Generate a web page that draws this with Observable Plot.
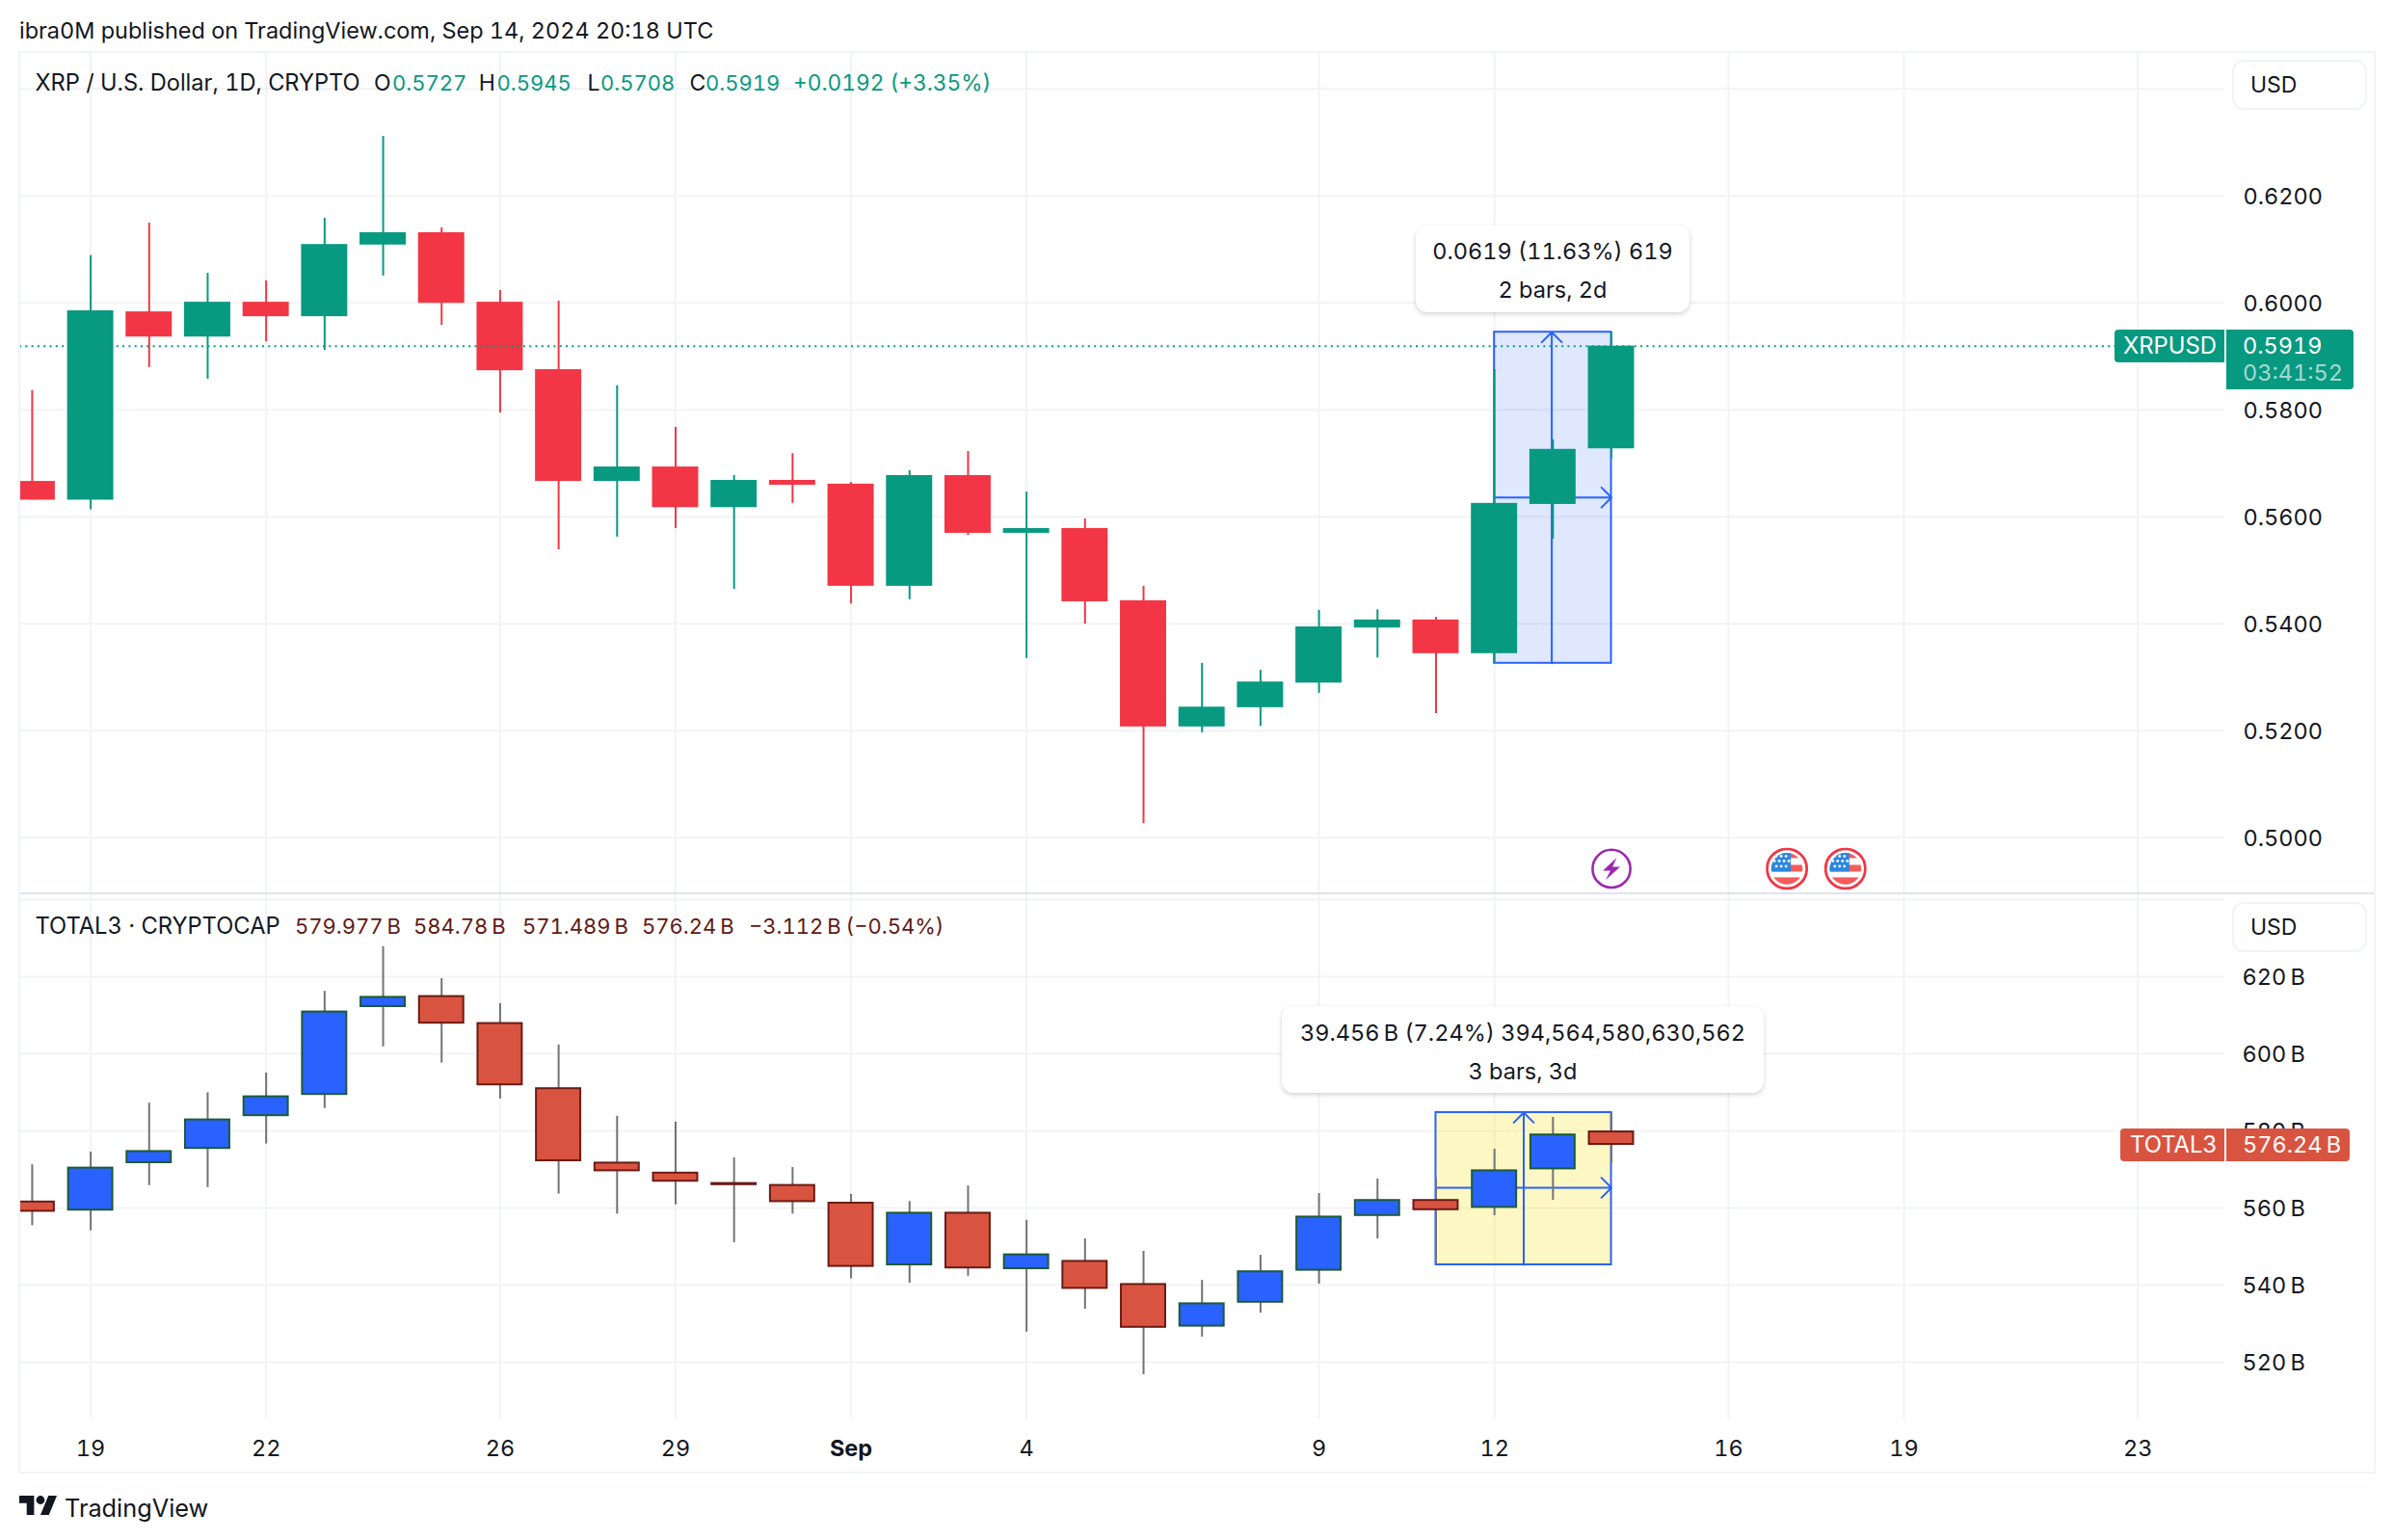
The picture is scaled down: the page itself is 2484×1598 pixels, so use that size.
<!DOCTYPE html>
<html>
<head>
<meta charset="utf-8">
<script src="https://cdn.jsdelivr.net/npm/d3@7"></script>
<script src="https://cdn.jsdelivr.net/npm/@observablehq/plot@0.6"></script>
<style>
html,body{margin:0;padding:0;background:#fff;}
#page{position:relative;width:2484px;height:1598px;overflow:hidden;font-family:Inter,sans-serif;color:#131722;font-variant-numeric:tabular-nums;}
.t{position:absolute;white-space:pre;line-height:1;transform:translateY(-50%);}
.box{position:absolute;box-sizing:border-box;}
.plot{position:absolute;left:0;}
.plot svg{display:block;}
.plot svg text{font-variant-numeric:tabular-nums;}
.tip{position:absolute;box-sizing:border-box;background:#fff;border-radius:12px;box-shadow:0 2px 5px rgba(0,0,0,.18);}
</style>
</head>
<body>
<div id="page"></div>
<script>
const barDates = ["2024-08-18","2024-08-19","2024-08-20","2024-08-21","2024-08-22","2024-08-23","2024-08-24","2024-08-25","2024-08-26","2024-08-27","2024-08-28","2024-08-29","2024-08-30","2024-08-31","2024-09-01","2024-09-02","2024-09-03","2024-09-04","2024-09-05","2024-09-06","2024-09-07","2024-09-08","2024-09-09","2024-09-10","2024-09-11","2024-09-12","2024-09-13","2024-09-14"];

const xrpOpen  = [.5666,.5631,.5983,.5936,.6001,.5974,.6108,.6131,.6001,.5875,.5666,.5693,.5617,.5668,.5661,.5470,.5677,.5569,.5578,.5443,.5207,.5243,.5289,.5392,.5407,.5344,.5623,.5727];
const xrpHigh  = [.5836,.6088,.6149,.6055,.6041,.6158,.6311,.6140,.6023,.6003,.5845,.5767,.5677,.5718,.5664,.5686,.5722,.5646,.5596,.5470,.5326,.5313,.5425,.5426,.5412,.5875,.5744,.5945];
const xrpLow   = [.5631,.5613,.5879,.5857,.5927,.5911,.6050,.5958,.5794,.5538,.5562,.5578,.5464,.5625,.5437,.5445,.5565,.5335,.5399,.5026,.5196,.5208,.5270,.5336,.5232,.5326,.5558,.5708];
const xrpClose = [.5631,.5985,.5936,.6001,.5974,.6109,.6131,.5999,.5873,.5666,.5693,.5617,.5668,.5659,.5470,.5677,.5569,.5578,.5441,.5207,.5244,.5291,.5394,.5407,.5344,.5625,.5726,.5919];

const totalOpen  = [561.8,559.2,571.5,575.2,583.7,589.2,612.0,615.1,608.1,591.2,571.9,569.3,566.6,566.1,561.5,545.0,558.9,544.0,546.4,540.4,529.1,535.3,543.6,557.8,562.2,559.9,569.9,579.977];
const totalHigh  = [571.2,574.5,587.2,589.9,595.0,616.2,627.8,619.5,613.0,602.3,583.8,582.3,573.0,570.5,563.5,561.7,565.7,556.8,552.0,548.75,541.25,547.75,563.75,567.5,567.8,575.25,583.5,584.78];
const totalLow   = [555.4,554.1,565.8,565.3,576.6,585.8,601.8,597.6,588.3,563.6,558.4,560.8,551.0,558.4,541.6,540.5,542.3,527.8,533.75,516.75,526.5,532.75,540.25,552,545.3,558,562,571.489];
const totalClose = [558.9,570.6,574.9,583.1,589.1,611.1,614.9,607.7,591.7,572.0,569.4,566.7,565.8,561.4,544.6,558.9,544.2,548.1,538.9,528.8,535.4,543.7,557.9,562.2,559.3,569.9,579.2,576.24];

const timeTicks = ["2024-08-19","2024-08-22","2024-08-26","2024-08-29","2024-09-01","2024-09-04","2024-09-09","2024-09-12","2024-09-16","2024-09-19","2024-09-23"].map(d=>new Date(d));
const xrpGrid = [.50,.52,.54,.56,.58,.60,.62,.64];
const xrpLabels = [.50,.52,.54,.56,.58,.60,.62];
const totalGrid = [520,540,560,580,600,620,640];
const totalLabels = [520,540,560,580,600,620];

const xDomain = [new Date("2024-08-17T18:54:00Z"), new Date("2024-09-24T11:41:00Z")];
const xrpDomain = [0.48968, 0.64661];
const totalDomain = [505.25, 641.5];

const xrpUp = "#089981", xrpDown = "#f23645";
const totalUp = "#2962ff", totalDown = "#d95440", totalUpEdge = "#1e5a37", totalDownEdge = "#6a1b14", wickGrey = "#737375";
const gridColor = "#f2f3f5", blue = "#2962ff";

const xrpMeasure = {x1:new Date("2024-09-12"), x2:new Date("2024-09-14"), xm:new Date("2024-09-12T23:30:00Z"), y1:.5326, y2:.5945, ym:.5636};
const totalMeasure = {x1:new Date("2024-09-11"), x2:new Date("2024-09-14"), xm:new Date("2024-09-12T12:00:00Z"), y1:545.25, y2:584.75, ym:565.25};

const nb = "\u202f";
const halfBar = 0.395 * 864e5;
const rows = (o,h,l,c) => barDates.map((d,i)=>({date:new Date(d),o:o[i],h:h[i],l:l[i],c:c[i],up:c[i]>=o[i]}));
const xrpRows = rows(xrpOpen,xrpHigh,xrpLow,xrpClose);
const totalRows = rows(totalOpen,totalHigh,totalLow,totalClose);

function svgUri(s){return "data:image/svg+xml;utf8,"+encodeURIComponent(s);}
const flagStars = [[11,9],[16,9],[21,9],[9,14],[14,14],[19,14],[24,14],[11,19.5],[16,19.5],[21,19.5]].map(p=>`<circle cx="${p[0]}" cy="${p[1]}" r="1.4" fill="#fff"/>`).join("");
const flagIcon = svgUri(`<svg xmlns="http://www.w3.org/2000/svg" width="44" height="44" viewBox="0 0 44 44"><clipPath id="c"><circle cx="22" cy="22" r="16.3"/></clipPath><circle cx="22" cy="22" r="20.6" fill="#fff" stroke="#f23645" stroke-width="2.8"/><g clip-path="url(#c)"><rect x="0" y="0" width="44" height="11" fill="#f45b5b"/><rect x="0" y="18" width="44" height="7" fill="#f45b5b"/><rect x="0" y="31" width="44" height="13" fill="#f45b5b"/><rect x="0" y="0" width="26" height="25" fill="#2c87e0"/>${flagStars}</g></svg>`);
const boltIcon = svgUri(`<svg xmlns="http://www.w3.org/2000/svg" width="44" height="44" viewBox="0 0 44 44"><circle cx="22" cy="22" r="19.6" fill="#fff" stroke="#9c27b0" stroke-width="2.6"/><path d="M27.5 10.5 L13 24 L21 24 L16 33.5 L31 20 L23 20 Z" fill="#9c27b0"/></svg>`);
const xrpEvents = [{date:new Date("2024-09-14"),v:.4942,src:boltIcon},{date:new Date("2024-09-17"),v:.4942,src:flagIcon},{date:new Date("2024-09-18"),v:.4942,src:flagIcon}];

const common = {width:2484, marginLeft:20, marginRight:176, marginTop:0};
const font = {fontFamily:"Inter, sans-serif", fontSize:"23.5px", color:"#131722", background:"transparent"};

const xrpChart = Plot.plot({
  ...common, height:871, marginBottom:0, style:font,
  x:{type:"utc", domain:xDomain}, y:{domain:xrpDomain},
  marks:[
    Plot.ruleY(xrpGrid,{y:d=>d,stroke:gridColor,strokeWidth:2}),
    Plot.ruleX(timeTicks,{x:d=>d,stroke:gridColor,strokeWidth:2}),
    Plot.rect([xrpMeasure],{x1:"x1",x2:"x2",y1:"y1",y2:"y2",fill:"rgba(41,98,255,0.15)",stroke:blue,strokeWidth:2}),
    Plot.arrow([xrpMeasure],{x1:"xm",x2:"xm",y1:"y1",y2:"y2",stroke:blue,strokeWidth:2,headAngle:90,headLength:11}),
    Plot.arrow([xrpMeasure],{x1:"x1",x2:"x2",y1:"ym",y2:"ym",stroke:blue,strokeWidth:2,headAngle:90,headLength:11}),
    Plot.ruleX(xrpRows,{x:"date",y1:"l",y2:"h",stroke:d=>d.up?xrpUp:xrpDown,strokeWidth:2,clip:true}),
    Plot.rect(xrpRows,{x1:d=>new Date(+d.date-halfBar),x2:d=>new Date(+d.date+halfBar),y1:"o",y2:"c",fill:d=>d.up?xrpUp:xrpDown,clip:true}),
    Plot.ruleY([.5919],{y:d=>d,stroke:xrpUp,strokeWidth:2,strokeDasharray:"2 4.3"}),
    Plot.axisX({ticks:[],tickSize:0,label:null}),
    Plot.axisY({ticks:xrpLabels,anchor:"right",tickSize:0,tickPadding:19,label:null,dy:1,tickFormat:d3.format(".4f")}),
    Plot.image(xrpEvents,{x:"date",y:"v",src:"src",width:44,height:44})
  ]
});

const totalChart = Plot.plot({
  ...common, height:601, marginBottom:56, style:font,
  x:{type:"utc", domain:xDomain}, y:{domain:totalDomain},
  marks:[
    Plot.ruleY(totalGrid,{y:d=>d,stroke:gridColor,strokeWidth:2}),
    Plot.ruleX(timeTicks,{x:d=>d,stroke:gridColor,strokeWidth:2}),
    Plot.rect([totalMeasure],{x1:"x1",x2:"x2",y1:"y1",y2:"y2",fill:"rgba(249,230,60,0.3)",stroke:blue,strokeWidth:2}),
    Plot.arrow([totalMeasure],{x1:"xm",x2:"xm",y1:"y1",y2:"y2",stroke:blue,strokeWidth:2,headAngle:90,headLength:11}),
    Plot.arrow([totalMeasure],{x1:"x1",x2:"x2",y1:"ym",y2:"ym",stroke:blue,strokeWidth:2,headAngle:90,headLength:11}),
    Plot.ruleX(totalRows,{x:"date",y1:"l",y2:"h",stroke:wickGrey,strokeWidth:2,clip:true}),
    Plot.rect(totalRows,{x1:d=>new Date(+d.date-halfBar+864e5*0.0165),x2:d=>new Date(+d.date+halfBar-864e5*0.0165),y1:"o",y2:"c",insetTop:1,insetBottom:1,fill:d=>d.up?totalUp:totalDown,stroke:d=>d.up?totalUpEdge:totalDownEdge,strokeWidth:2,clip:true}),
    Plot.axisX({ticks:timeTicks.filter(d=>d.getUTCDate()!==1),anchor:"bottom",tickSize:0,tickPadding:22,label:null,tickFormat:d=>String(d.getUTCDate())}),
    Plot.axisX({ticks:timeTicks.filter(d=>d.getUTCDate()===1),anchor:"bottom",tickSize:0,tickPadding:22,label:null,fontWeight:700,tickFormat:()=>"Sep"}),
    Plot.axisY({ticks:totalLabels,anchor:"right",tickSize:0,tickPadding:18,label:null,dy:1,tickFormat:d=>d+nb+"B"})
  ]
});

const page = document.getElementById("page");
function place(chart,top){const w=document.createElement("div");w.className="plot";w.style.top=top+"px";w.appendChild(chart);page.appendChild(w);}
place(xrpChart,55);
place(totalChart,927);

function box(l,t,w,h,css){const e=document.createElement("div");e.className="box";e.style.cssText+=`left:${l}px;top:${t}px;width:${w}px;height:${h}px;${css||""}`;page.appendChild(e);return e;}
function txt(s,l,y,size,color,extra){const e=document.createElement("div");e.className="t";e.textContent=s;e.style.cssText+=`left:${l}px;top:${y}px;font-size:${size}px;color:${color||"#131722"};${extra||""}`;page.appendChild(e);return e;}
function tip(l,t,w,h,lines,ys,cx){const e=document.createElement("div");e.className="tip";e.style.cssText+=`left:${l}px;top:${t}px;width:${w}px;height:${h}px;`;page.appendChild(e);
  lines.forEach((s,i)=>txt(s,cx,ys[i],23.5,"#131722","transform:translate(-50%,-50%);"));}

// frame, divider
box(19,53,2446,1476,"border:2px solid #f0f3fa;pointer-events:none;");
box(21,926,2442,2,"background:#e0e3eb;");

// header
txt("ibra0M published on TradingView.com, Sep 14, 2024 20:18 UTC",20,31.5,23.45);

// XRP legend
const gr = "#089981", dk="#131722", rd="#5f1a15";
txt("XRP / U.S. Dollar, 1D, CRYPTO",36.5,86,23.6,dk);
[["O",388,dk],["0.5727",407,gr,22],["H",496.7,dk],["0.5945",515.6,gr,22],["L",609.6,dk],["0.5708",623,gr,22],["C",715.5,dk],["0.5919",732,gr,22],["+0.0192 (+3.35%)",823,gr,22.7]].forEach(a=>txt(a[0],a[1],86,a[3]||23,a[2]));

// TOTAL3 legend
txt("TOTAL3 \u00b7 CRYPTOCAP",36.5,960.5,23.7,dk);
[["579.977"+nb+"B",306],["584.78"+nb+"B",429],["571.489"+nb+"B",542],["576.24"+nb+"B",666],["\u22123.112"+nb+"B",777],["(\u22120.54%)",877.6]].forEach(a=>txt(a[0],a[1],960.5,22,rd));

// USD buttons
box(2316,62,140,52,"border:2px solid #f0f3fa;border-radius:12px;background:#fff;");
txt("USD",2335,87.5,23);
box(2316,936,140,52,"border:2px solid #f0f3fa;border-radius:12px;background:#fff;");
txt("USD",2335,962,23);

// price pills
box(2194,342,114,34,"background:#089981;border-radius:4px 0 0 4px;");
txt("XRPUSD",2203,359,23.8,"#fff");
box(2310,342,132,62,"background:#089981;border-radius:0 4px 4px 0;");
txt("0.5919",2327,359,23.5,"#fff");
txt("03:41:52",2327,387,23.5,"rgba(255,255,255,.65)");
box(2200,1171,108,34,"background:#d95440;border-radius:4px 0 0 4px;");
txt("TOTAL3",2210,1188,23.8,"#fff");
box(2310,1171,128,34,"background:#d95440;border-radius:0 4px 4px 0;");
txt("576.24"+nb+"B",2327,1188,23.5,"#fff");

// measurement tooltips
tip(1469,234,284,90,["0.0619 (11.63%) 619","2 bars, 2d"],[260.5,300.5],1611);
tip(1330,1044,500,90,["39.456"+nb+"B (7.24%) 394,564,580,630,562","3 bars, 3d"],[1071.5,1111.5],1580);

// footer logo
const logo = document.createElementNS("http://www.w3.org/2000/svg","svg");
logo.setAttribute("viewBox","0 4 35.5 18");logo.setAttribute("width","39");logo.setAttribute("height","20");
logo.style.cssText="position:absolute;left:20px;top:1552px;";
logo.innerHTML='<path fill="#131722" d="M14 22H7V11H0V4h14v18zM28 22h-8l7.5-18h8L28 22z"/><circle fill="#131722" cx="20" cy="8" r="4"/>';
page.appendChild(logo);
txt("TradingView",67,1564.5,25.3,"#131722");
</script>
</body>
</html>
